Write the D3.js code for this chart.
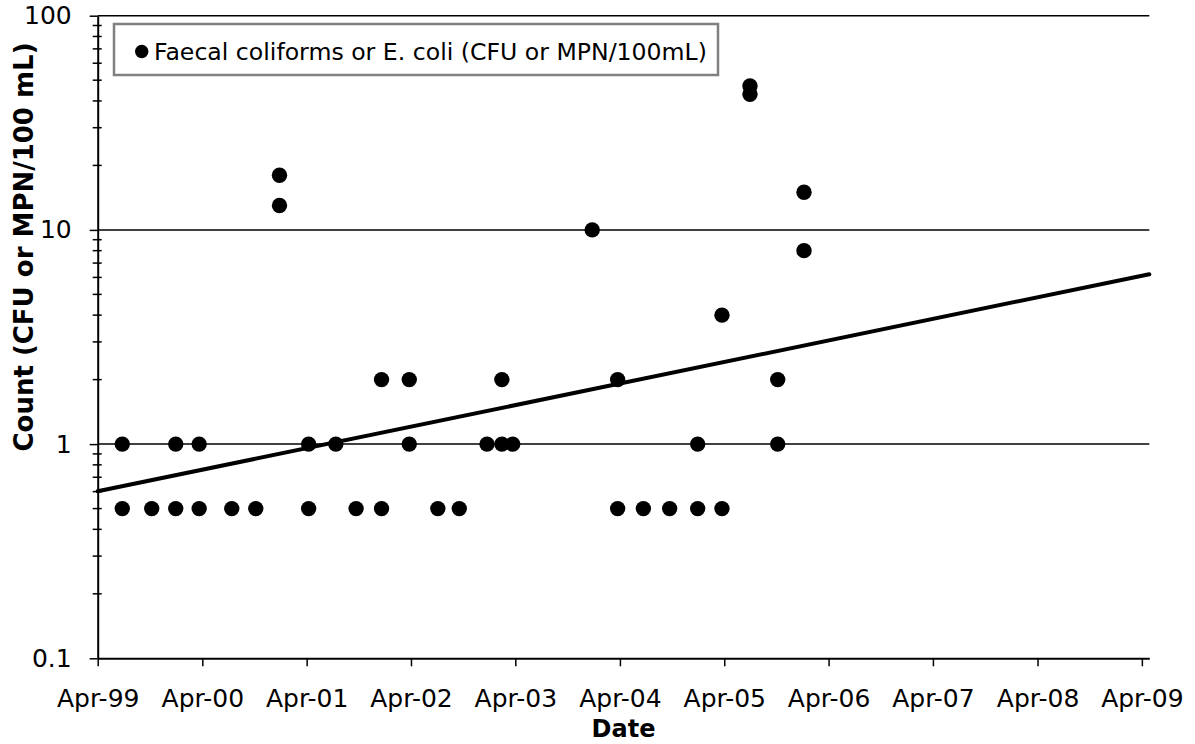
<!DOCTYPE html>
<html>
<head>
<meta charset="utf-8">
<script src="https://cdn.jsdelivr.net/npm/d3@7"></script>
<style>
  html, body { margin: 0; padding: 0; background: #fff; }
  svg { display: block; font-family: "DejaVu Sans", Verdana, sans-serif; }
</style>
</head>
<body>
<svg id="chart" width="1195" height="744"></svg>
<script>
// Sample dates and counts (Faecal coliforms or E. coli, CFU or MPN/100mL)
const sampleDates = [
  "1999-06-26", "1999-06-26",
  "1999-10-07",
  "1999-12-30", "1999-12-30",
  "2000-03-21", "2000-03-21",
  "2000-07-13",
  "2000-10-05",
  "2000-12-27", "2000-12-27",
  "2001-04-08", "2001-04-08",
  "2001-07-12",
  "2001-09-21",
  "2001-12-19", "2001-12-19",
  "2002-03-26", "2002-03-26",
  "2002-07-04",
  "2002-09-17",
  "2002-12-23",
  "2003-02-13", "2003-02-13",
  "2003-03-23",
  "2003-12-26",
  "2004-03-24", "2004-03-24",
  "2004-06-22",
  "2004-09-22",
  "2004-12-29", "2004-12-29",
  "2005-03-24", "2005-03-24",
  "2005-06-30", "2005-06-30",
  "2005-10-05", "2005-10-05",
  "2006-01-05", "2006-01-05"
];
const countValues = [
  1, 0.5,
  0.5,
  1, 0.5,
  1, 0.5,
  0.5,
  0.5,
  18, 13,
  1, 0.5,
  1,
  0.5,
  2, 0.5,
  2, 1,
  0.5,
  0.5,
  1,
  2, 1,
  1,
  10,
  2, 0.5,
  0.5,
  0.5,
  1, 0.5,
  4, 0.5,
  47, 43,
  2, 1,
  15, 8
];

// Exponential trend line end points
const trendDates = ["1999-04-01", "2009-04-27"];
const trendValues = [0.602, 6.21];

// Axis ticks
const xTickDates = ["1999-04-01", "2000-04-01", "2001-04-01", "2002-04-01", "2003-04-01",
                    "2004-04-01", "2005-04-01", "2006-04-01", "2007-04-01", "2008-04-01", "2009-04-01"];
const xTickLabels = ["Apr-99", "Apr-00", "Apr-01", "Apr-02", "Apr-03", "Apr-04",
                     "Apr-05", "Apr-06", "Apr-07", "Apr-08", "Apr-09"];
const yTickValues = [0.1, 1, 10, 100];
const yTickLabels = ["0.1", "1", "10", "100"];
const yMinorValues = [0.2, 0.3, 0.4, 0.5, 0.6, 0.7, 0.8, 0.9,
                      2, 3, 4, 5, 6, 7, 8, 9,
                      20, 30, 40, 50, 60, 70, 80, 90];

const legendLabel = "Faecal coliforms or E. coli (CFU or MPN/100mL)";
const xTitle = "Date";
const yTitle = "Count (CFU or MPN/100 mL)";

const parse = d3.timeParse("%Y-%m-%d");
const svg = d3.select("#chart");

const plotLeft = 97.7, plotRight = 1149.3, plotTop = 15.7, plotBottom = 658.3;
const tickFont = "25px";

const x = d3.scaleTime()
  .domain([parse("1999-04-01"), parse("2009-04-27")])
  .range([plotLeft, plotRight]);
const y = d3.scaleLog()
  .domain([0.1, 100])
  .range([plotBottom, plotTop]);

// Horizontal gridlines at each decade
svg.append("g")
  .selectAll("line")
  .data(yTickValues.filter(v => v > 0.1))
  .join("line")
  .attr("x1", plotLeft).attr("x2", plotRight)
  .attr("y1", d => y(d)).attr("y2", d => y(d))
  .attr("stroke", "#000").attr("stroke-width", 1.5);

// Y axis: major ticks outside, labelled
const yAxis = d3.axisLeft(y)
  .tickValues(yTickValues)
  .tickFormat((d, i) => yTickLabels[i])
  .tickSize(8)
  .tickSizeOuter(0)
  .tickPadding(18);
const yG = svg.append("g")
  .attr("transform", `translate(${plotLeft},0)`)
  .call(yAxis);
yG.select(".domain").attr("stroke", "#000").attr("stroke-width", 2);
yG.selectAll(".tick line").attr("stroke", "#000").attr("stroke-width", 1.5);
yG.selectAll(".tick text")
  .attr("fill", "#000")
  .style("font-size", tickFont)
  .style("font-family", "'DejaVu Sans', Verdana, sans-serif");

// Y axis minor ticks crossing the axis line
svg.append("g")
  .selectAll("line")
  .data(yMinorValues)
  .join("line")
  .attr("x1", plotLeft - 5).attr("x2", plotLeft + 4)
  .attr("y1", d => y(d)).attr("y2", d => y(d))
  .attr("stroke", "#000").attr("stroke-width", 1.5);

// X axis
const xAxis = d3.axisBottom(x)
  .tickValues(xTickDates.map(parse))
  .tickFormat((d, i) => xTickLabels[i])
  .tickSize(8)
  .tickSizeOuter(0)
  .tickPadding(23);
const xG = svg.append("g")
  .attr("transform", `translate(0,${plotBottom})`)
  .call(xAxis);
xG.select(".domain").attr("stroke", "#000").attr("stroke-width", 2);
xG.selectAll(".tick line").attr("stroke", "#000").attr("stroke-width", 1.5);
xG.selectAll(".tick text")
  .attr("fill", "#000")
  .style("font-size", tickFont)
  .style("font-family", "'DejaVu Sans', Verdana, sans-serif");

// Trend line
const trend = trendDates.map((d, i) => ({ date: parse(d), value: trendValues[i] }));
svg.append("path")
  .datum(trend)
  .attr("fill", "none")
  .attr("stroke", "#000")
  .attr("stroke-width", 4)
  .attr("stroke-linecap", "round")
  .attr("d", d3.line().x(d => x(d.date)).y(d => y(d.value)));

// Sample points
const samples = sampleDates.map((d, i) => ({ date: parse(d), value: countValues[i] }));
svg.append("g")
  .selectAll("circle")
  .data(samples)
  .join("circle")
  .attr("cx", d => x(d.date))
  .attr("cy", d => y(d.value))
  .attr("r", 7.7)
  .attr("fill", "#000");

// Legend
const legend = svg.append("g");
legend.append("rect")
  .attr("x", 114).attr("y", 24)
  .attr("width", 604).attr("height", 51)
  .attr("fill", "#fff")
  .attr("stroke", "#808080")
  .attr("stroke-width", 2.5);
legend.append("circle")
  .attr("cx", 141.7).attr("cy", 51.5).attr("r", 6.7).attr("fill", "#000");
legend.append("text")
  .attr("x", 154).attr("y", 60)
  .style("font-size", "23.6px")
  .attr("fill", "#000")
  .text(legendLabel);

// Axis titles
svg.append("text")
  .attr("x", (plotLeft + plotRight) / 2).attr("y", 737)
  .attr("text-anchor", "middle")
  .style("font-size", "24px")
  .style("font-weight", "bold")
  .attr("fill", "#000")
  .text(xTitle);

svg.append("text")
  .attr("transform", "translate(33,247) rotate(-90)")
  .attr("text-anchor", "middle")
  .style("font-size", "26px")
  .style("font-weight", "bold")
  .attr("fill", "#000")
  .text(yTitle);
</script>
</body>
</html>
